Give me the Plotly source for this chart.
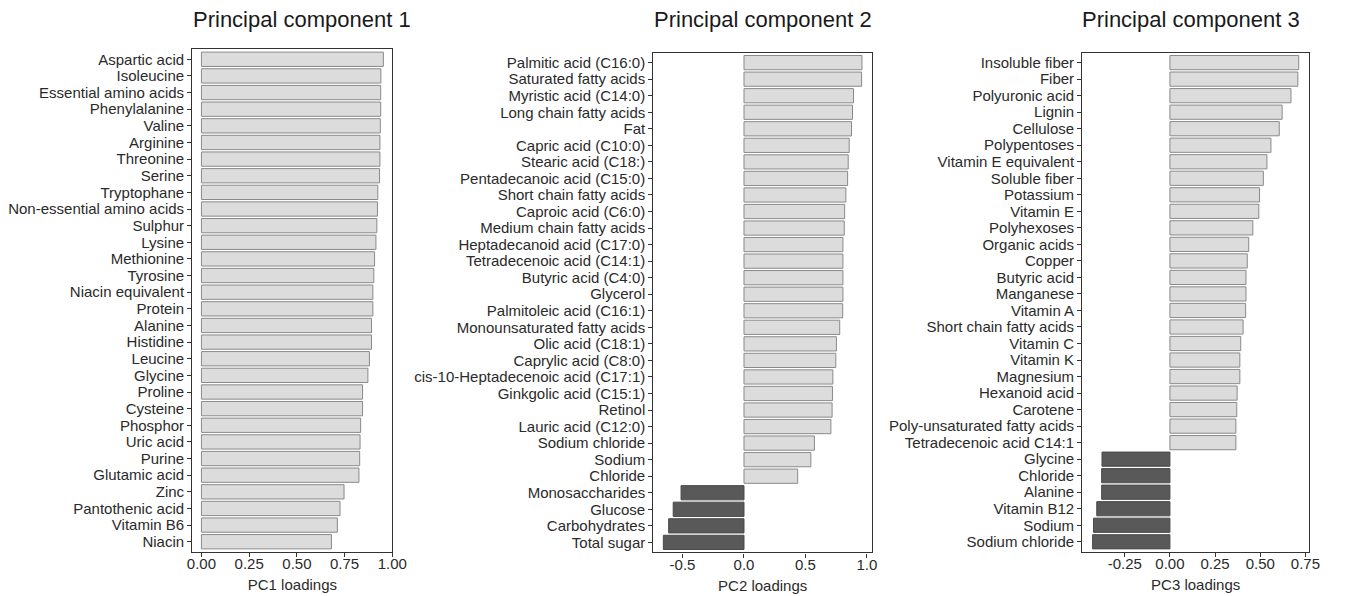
import plotly.graph_objects as go

# ---------------- data ----------------
pc1_labels = ["Aspartic acid", "Isoleucine", "Essential amino acids", "Phenylalanine", "Valine",
              "Arginine", "Threonine", "Serine", "Tryptophane", "Non-essential amino acids",
              "Sulphur", "Lysine", "Methionine", "Tyrosine", "Niacin equivalent", "Protein",
              "Alanine", "Histidine", "Leucine", "Glycine", "Proline", "Cysteine", "Phosphor",
              "Uric acid", "Purine", "Glutamic acid", "Zinc", "Pantothenic acid", "Vitamin B6", "Niacin"]
pc1_values = [0.953, 0.940, 0.939, 0.939, 0.937, 0.935, 0.935, 0.933, 0.924, 0.922,
              0.919, 0.914, 0.907, 0.903, 0.898, 0.898, 0.891, 0.891, 0.880, 0.872,
              0.844, 0.844, 0.834, 0.831, 0.829, 0.825, 0.747, 0.726, 0.712, 0.681]

pc2_labels = ["Palmitic acid (C16:0)", "Saturated fatty acids", "Myristic acid (C14:0)",
              "Long chain fatty acids", "Fat", "Capric acid (C10:0)", "Stearic acid (C18:)",
              "Pentadecanoic acid (C15:0)", "Short chain fatty acids", "Caproic acid (C6:0)",
              "Medium chain fatty acids", "Heptadecanoid acid (C17:0)", "Tetradecenoic acid (C14:1)",
              "Butyric acid (C4:0)", "Glycerol", "Palmitoleic acid (C16:1)", "Monounsaturated fatty acids",
              "Olic acid (C18:1)", "Caprylic acid (C8:0)", "cis-10-Heptadecenoic acid (C17:1)",
              "Ginkgolic acid (C15:1)", "Retinol", "Lauric acid (C12:0)", "Sodium chloride",
              "Sodium", "Chloride", "Monosaccharides", "Glucose", "Carbohydrates", "Total sugar"]
pc2_values = [0.960, 0.957, 0.891, 0.883, 0.875, 0.856, 0.848, 0.843, 0.829, 0.819,
              0.816, 0.805, 0.805, 0.805, 0.805, 0.803, 0.779, 0.752, 0.747, 0.723,
              0.720, 0.717, 0.707, 0.573, 0.544, 0.437, -0.512, -0.576, -0.613, -0.656]

pc3_labels = ["Insoluble fiber", "Fiber", "Polyuronic acid", "Lignin", "Cellulose", "Polypentoses",
              "Vitamin E equivalent", "Soluble fiber", "Potassium", "Vitamin E", "Polyhexoses",
              "Organic acids", "Copper", "Butyric acid", "Manganese", "Vitamin A",
              "Short chain fatty acids", "Vitamin C", "Vitamin K", "Magnesium", "Hexanoid acid",
              "Carotene", "Poly-unsaturated fatty acids", "Tetradecenoic acid C14:1", "Glycine",
              "Chloride", "Alanine", "Vitamin B12", "Sodium", "Sodium chloride"]
pc3_values = [0.713, 0.708, 0.670, 0.621, 0.605, 0.559, 0.537, 0.517, 0.496, 0.492,
              0.459, 0.436, 0.428, 0.421, 0.421, 0.419, 0.405, 0.392, 0.387, 0.387,
              0.372, 0.370, 0.365, 0.365, -0.376, -0.378, -0.378, -0.405, -0.423, -0.428]

pc1_ticks = [0, 0.25, 0.5, 0.75, 1.0]
pc1_ticktext = ["0.00", "0.25", "0.50", "0.75", "1.00"]
pc2_ticks = [-0.5, 0.0, 0.5, 1.0]
pc2_ticktext = ["-0.5", "0.0", "0.5", "1.0"]
pc3_ticks = [-0.25, 0.0, 0.25, 0.5, 0.75]
pc3_ticktext = ["-0.25", "0.00", "0.25", "0.50", "0.75"]

titles = ["Principal component 1", "Principal component 2", "Principal component 3"]
axis_titles = ["PC1 loadings", "PC2 loadings", "PC3 loadings"]

# ---------------- layout ----------------
W, H = 1348, 596
FONT = "Liberation Sans, Arial, sans-serif"
TXT = "#2a2a2a"
LIGHT = "#dcdcdc"
DARK = "#595959"

panels = [
    dict(labels=pc1_labels, values=pc1_values, ticks=pc1_ticks, ticktext=pc1_ticktext,
         box=(190, 49.3, 393, 551.7), title_x=301.7),
    dict(labels=pc2_labels, values=pc2_values, ticks=pc2_ticks, ticktext=pc2_ticktext,
         box=(657.7, 52.7, 879.3, 552.3), title_x=769),
    dict(labels=pc3_labels, values=pc3_values, ticks=pc3_ticks, ticktext=pc3_ticktext,
         box=(1092.7, 52.7, 1322.7, 551.7), title_x=1202.5),
]

fig = go.Figure()
layout = dict(width=W, height=H, autosize=False, margin=dict(l=0, r=0, t=0, b=0, pad=0),
              paper_bgcolor="white", plot_bgcolor="white", showlegend=False,
              font=dict(family=FONT, color=TXT, size=15))
annotations = []

for i, p in enumerate(panels):
    n = i + 1
    xa = "xaxis" if n == 1 else f"xaxis{n}"
    ya = "yaxis" if n == 1 else f"yaxis{n}"
    xref = "x" if n == 1 else f"x{n}"
    yref = "y" if n == 1 else f"y{n}"
    vals = p["values"]
    vmin, vmax = min(0, min(vals)), max(vals)
    pad = 0.05 * (vmax - vmin)
    colors = [LIGHT if v >= 0 else DARK for v in vals]
    lines = ["#8a8a8a" if v >= 0 else "#4a4a4a" for v in vals]
    fig.add_trace(go.Bar(x=vals, y=p["labels"], orientation="h", xaxis=xref, yaxis=yref,
                         marker=dict(color=colors, line=dict(color=lines, width=1)),
                         width=0.86, hoverinfo="x+y"))
    x0, y0, x1, y1 = p["box"]
    layout[xa] = dict(domain=[x0 / W, x1 / W], range=[vmin - pad, vmax + pad],
                      anchor=yref, showgrid=False, zeroline=False,
                      showline=True, mirror=True, linecolor="#333333", linewidth=1.4,
                      ticks="outside", ticklen=4, tickcolor="#333333", tickwidth=1,
                      tickmode="array", tickvals=p["ticks"], ticktext=p["ticktext"],
                      ticklabelstandoff=-6,
                      tickfont=dict(size=15, color=TXT),
                      title=dict(text=axis_titles[i], font=dict(size=15, color=TXT), standoff=8))
    layout[ya] = dict(domain=[(H - y1) / H, (H - y0) / H], anchor=xref,
                      type="category", categoryorder="array", categoryarray=p["labels"],
                      tickmode="array", tickvals=p["labels"], ticktext=p["labels"],
                      range=[len(vals) - 0.4, -0.6], showgrid=False, zeroline=False,
                      showline=True, mirror=True, linecolor="#333333", linewidth=1.4,
                      ticks="outside", ticklen=4, tickcolor="#333333", tickwidth=1,
                      tickfont=dict(size=15, color=TXT))
    annotations.append(dict(text=titles[i], x=p["title_x"] / W, y=(H - 19) / H,
                            xref="paper", yref="paper", xanchor="center", yanchor="middle",
                            showarrow=False, font=dict(size=22, color="#1a1a1a", family=FONT)))

layout["annotations"] = annotations
fig.update_layout(**layout)

post = ("document.documentElement.style.overflow='hidden';"
        "document.body.style.margin='0';document.body.style.overflow='hidden';")
fig.write_html("out.html", config={"displayModeBar": False, "responsive": False}, post_script=post)
